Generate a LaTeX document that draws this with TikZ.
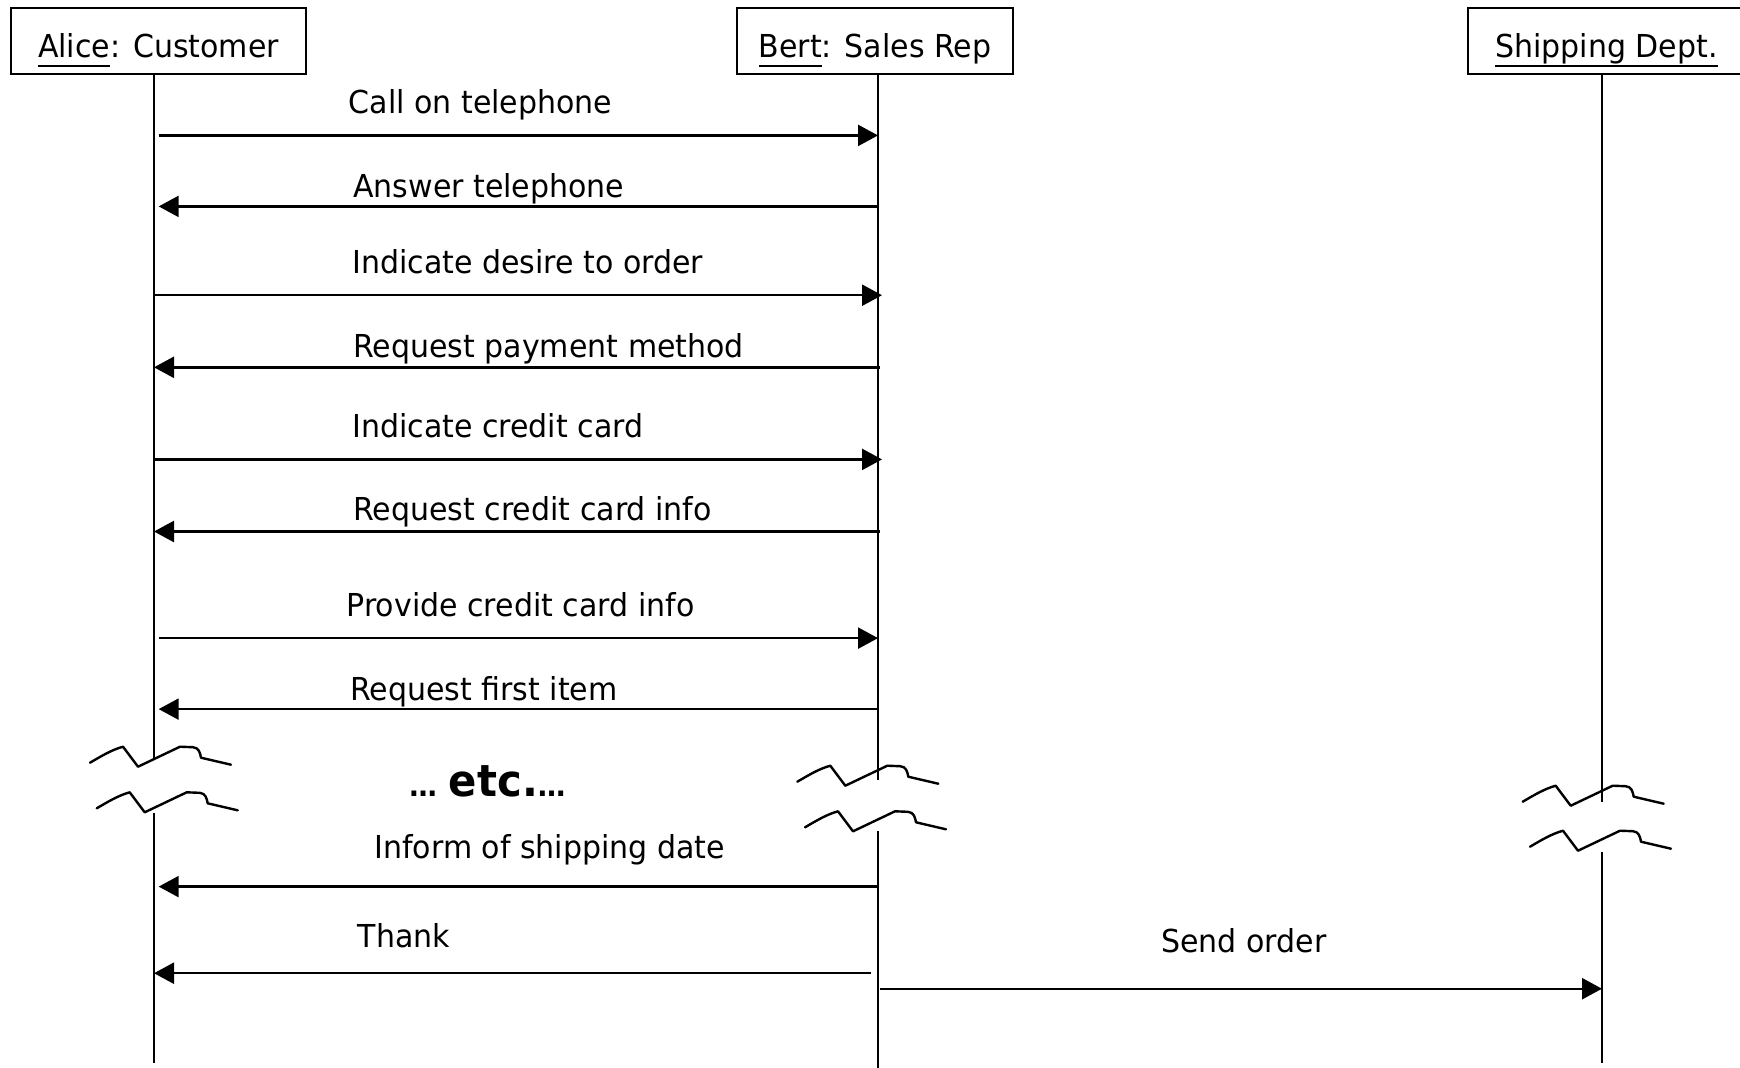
\documentclass[tikz,border=0pt]{standalone}
\usepackage{fontspec}
\setmainfont{DejaVu Sans}[FakeStretch=0.95]
\usetikzlibrary{arrows.meta}

% object name with a firm underline at a fixed depth
\newcommand{\objname}[1]{\setbox0\hbox{#1}\rlap{\rule[-4.8pt]{\wd0}{1pt}}\box0}

\tikzset{
  hdr/.style={draw, line width=1.3pt, minimum height=33pt, inner sep=0pt,
              text height=20pt, text depth=4pt,
              font=\fontsize{15.8pt}{19pt}\selectfont},
  life/.style={line width=1.2pt},
  msg/.style={line width=1.2pt, -{Triangle[length=10pt,width=10.5pt]}},
  lbl/.style={anchor=base west, inner sep=0pt, font=\fontsize{15.8pt}{19pt}\selectfont},
  brkline/.style={line width=1.2pt, line join=round, line cap=round},
  lifebreak/.pic={
    \draw[brkline] (0,0) .. controls (12,-7) and (22,-13) .. (33,-16)
      -- (48,4) -- (90,-16) -- (103,-15.5)
      .. controls (109,-15) and (110,-10) .. (111,-5) -- (141,2);
  }
}

\begin{document}
\begin{tikzpicture}[x=0.5pt,y=-0.5pt]
\clip (0,0) rectangle (1740,1067);
\fill[white] (0,0) rectangle (1740,1067);

% object headers
\node[hdr, minimum width=147.5pt] (alice) at (158.5,41) {\objname{Alice}: Customer};
\node[hdr, minimum width=138pt]   (bert)  at (875,41)   {\objname{Bert}: Sales Rep};
\node[hdr, minimum width=138.5pt] (ship)  at (1606.5,41) {\objname{Shipping Dept.}};

% lifeline positions
\coordinate (aL) at (154,0);
\coordinate (bL) at (878,0);
\coordinate (sL) at (1602,0);

% lifelines, interrupted by break marks
\coordinate (aB1) at (154,760);  \coordinate (aB2) at (154,813);  \coordinate (aEnd) at (154,1063);
\coordinate (bB1) at (878,780);  \coordinate (bB2) at (878,831);  \coordinate (bEnd) at (878,1070);
\coordinate (sB1) at (1602,802); \coordinate (sB2) at (1602,852); \coordinate (sEnd) at (1602,1063);

\draw[life] (alice.south -| aL) -- (aB1);
\draw[life] (aB2) -- (aEnd);
\draw[life] (bert.south -| bL) -- (bB1);
\draw[life] (bB2) -- (bEnd);
\draw[life] (ship.south -| sL) -- (sB1);
\draw[life] (sB2) -- (sEnd);

% break marks
\pic at (90,762.7)    {lifebreak};
\pic at (96.7,808.3)  {lifebreak};
\pic at (797.3,781.7) {lifebreak};
\pic at (805,827.3)   {lifebreak};
\pic at (1522.7,801.7){lifebreak};
\pic at (1530,846.7)  {lifebreak};

% message end points
\coordinate (m1a) at (158.7,135.4); \coordinate (m1b) at (878,135.4);
\coordinate (m2b) at (878,206.4);   \coordinate (m2a) at (158.7,206.4);
\coordinate (m3a) at (154,295.2);   \coordinate (m3b) at (882,295.2);
\coordinate (m4b) at (880,367.3);   \coordinate (m4a) at (154,367.3);
\coordinate (m5a) at (154,459.4);   \coordinate (m5b) at (882,459.4);
\coordinate (m6b) at (880,531.5);   \coordinate (m6a) at (154,531.5);
\coordinate (m7a) at (158.7,638.1); \coordinate (m7b) at (878,638.1);
\coordinate (m8b) at (878,709.1);   \coordinate (m8a) at (158.7,709.1);
\coordinate (m9b) at (878,886.6);   \coordinate (m9a) at (158.7,886.6);
\coordinate (m10b) at (871,973.2);  \coordinate (m10a) at (154,973.2);
\coordinate (m11b) at (880,988.7);  \coordinate (m11s) at (1602,988.7);

% messages
\draw[msg] (m1a) -- (m1b);
\draw[msg] (m2b) -- (m2a);
\draw[msg] (m3a) -- (m3b);
\draw[msg] (m4b) -- (m4a);
\draw[msg] (m5a) -- (m5b);
\draw[msg] (m6b) -- (m6a);
\draw[msg] (m7a) -- (m7b);
\draw[msg] (m8b) -- (m8a);
\draw[msg] (m9b) -- (m9a);
\draw[msg] (m10b) -- (m10a);
\draw[msg] (m11b) -- (m11s);

% message labels
\node[lbl] (t1)  at (348.4,113) {Call on telephone};
\node[lbl] (t2)  at (352.9,197) {Answer telephone};
\node[lbl] (t3)  at (351.8,273) {Indicate desire to order};
\node[lbl] (t4)  at (352.9,357) {Request payment method};
\node[lbl] (t5)  at (351.8,437) {Indicate credit card};
\node[lbl] (t6)  at (352.9,520) {Request credit card info};
\node[lbl] (t7)  at (346.2,616) {Provide credit card info};
\node[lbl] (t8)  at (349.6,700) {Request first item};
\node[lbl] (t9)  at (374,858)   {Inform of shipping date};
\node[lbl] (t10) at (357.3,947) {Thank};
\node[lbl] (t11) at (1160.8,952){Send order};

\node[anchor=base west, inner sep=0pt] (etc) at (409,796)
  {\bfseries\fontsize{14.5pt}{16pt}\selectfont …\hspace{6pt}{\fontsize{22pt}{24pt}\selectfont etc.}…};
\end{tikzpicture}
\end{document}
